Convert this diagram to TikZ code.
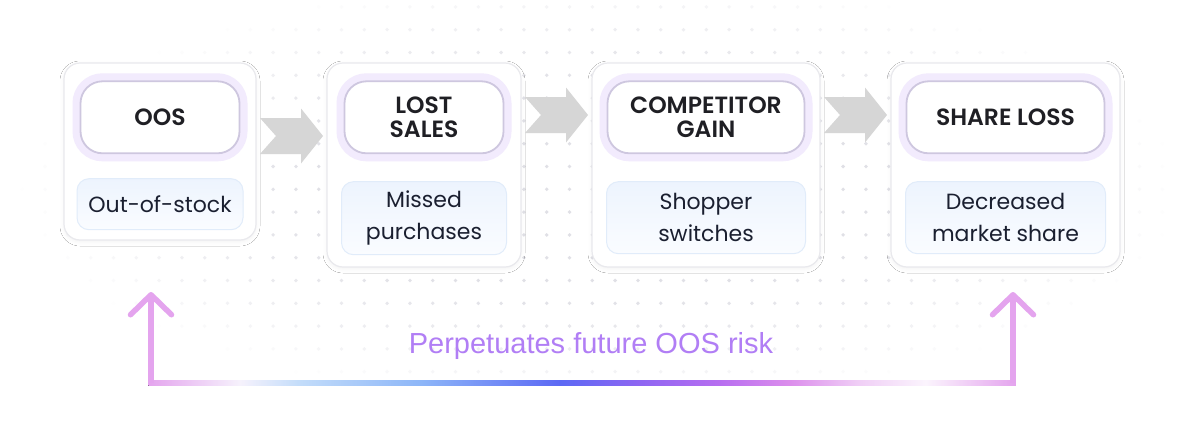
\documentclass[tikz,border=0pt]{standalone}
\usepackage{fontspec}
\setmainfont{Poppins}
\IfFontExistsTF{Poppins SemiBold}
  {\newfontfamily\headfont{Poppins SemiBold}}
  {\newfontfamily\headfont{Poppins}[UprightFont=*, BoldFont=* Bold]\let\oldheadfont\headfont\def\headfont{\oldheadfont\bfseries}}
\newfontfamily\notefont{Liberation Sans}
\usetikzlibrary{positioning,calc,arrows.meta,shadows.blur}
\definecolor{ink}{HTML}{1F1F24}
\definecolor{subink}{HTML}{1A1F30}
\definecolor{cardline}{HTML}{E9E9ED}
\definecolor{titleline}{HTML}{CEC7DF}
\definecolor{glow}{HTML}{F2EBFD}
\definecolor{subtop}{HTML}{EDF4FE}
\definecolor{subbot}{HTML}{FAFCFF}
\definecolor{subline}{HTML}{E1ECFA}
\definecolor{chevgray}{HTML}{D6D6D6}
\definecolor{dotgray}{HTML}{D6D6DE}
\definecolor{backpink}{HTML}{E4A4EE}
\definecolor{notepurple}{HTML}{B17EF5}
\definecolor{fadeA}{HTML}{F6F2FC}
\definecolor{fadeB}{HTML}{C2DCFA}
\definecolor{fadeC}{HTML}{8DB6F8}
\definecolor{fadeD}{HTML}{5C69F4}
\definecolor{fadeE}{HTML}{8E66F2}
\definecolor{fadeF}{HTML}{B76EF0}
\definecolor{fadeG}{HTML}{DC8EEC}
\definecolor{fadeH}{HTML}{F0CFF6}
\definecolor{fadeI}{HTML}{FBF4FD}
\pgfdeclarehorizontalshading{backfade}{100bp}{color(0bp)=(backpink); color(25bp)=(backpink);
  color(30.3bp)=(fadeA); color(33.8bp)=(fadeB); color(40.7bp)=(fadeC); color(48.7bp)=(fadeD);
  color(53.3bp)=(fadeE); color(57.9bp)=(fadeF); color(62bp)=(fadeG); color(66bp)=(fadeH);
  color(69.8bp)=(fadeI); color(75bp)=(backpink); color(100bp)=(backpink)}
% gray chevron between two cards, at height #3
\newcommand{\chev}[3]{%
  \fill[chevron] let \p1=(#1.east), \p2=(#2.west) in
    ({(\x1+\x2)/2-31.5pt},{-#3pt+18pt}) -- ({(\x1+\x2)/2+9.5pt},{-#3pt+18pt})
    -- ({(\x1+\x2)/2+9.5pt},{-#3pt+27.5pt}) -- ({(\x1+\x2)/2+31.5pt},{-#3pt})
    -- ({(\x1+\x2)/2+9.5pt},{-#3pt-27.5pt}) -- ({(\x1+\x2)/2+9.5pt},{-#3pt-18pt})
    -- ({(\x1+\x2)/2-31.5pt},{-#3pt-18pt}) -- ({(\x1+\x2)/2-15.5pt},{-#3pt}) -- cycle;}

\begin{document}
\begin{tikzpicture}[
  x=1pt, y=-1pt,
  card/.style={draw=cardline, line width=1.2pt, fill=white, rounded corners=16pt,
               blur shadow={shadow xshift=0pt, shadow yshift=-2pt, shadow blur radius=4pt, shadow opacity=5}},
  titlebox/.style={draw=titleline, line width=1.8pt, fill=white, rounded corners=22pt,
                   preaction={draw=glow, line width=16pt},
                   minimum height=72pt, align=center, text=ink,
                   font=\headfont\fontsize{23.5}{24.5}\selectfont},
  subbox/.style={draw=subline, line width=1pt, top color=subtop, bottom color=subbot,
                 rounded corners=12pt, align=center, text=subink,
                 font=\fontsize{22}{32}\selectfont},
  chevron/.style={fill=chevgray},
  backline/.style={draw=backpink, line width=5.5pt,
                   -{Straight Barb[length=20pt, width=41pt, round]}}
]
  \useasboundingbox (0,0) rectangle (1184,442);
  \fill[white] (0,0) rectangle (1184,442);

  % dotted backdrop, fading out towards the edges
  \foreach \i in {0,...,50} {
    \foreach \j in {0,...,16} {
      \pgfmathsetmacro\dx{22.3+22.8*\i}
      \pgfmathsetmacro\dy{6.9+22.8*\j}
      \pgfmathsetmacro\op{0.75*min(1,1.3*max(0,1-((\dx-600)/580)^2-((\dy-190)/215)^2))}
      \fill[dotgray, opacity=\op] (\dx,\dy) circle (1.9);
    }
  }

  \node[card, minimum width=192pt, minimum height=177pt] (c1) at (160,151.5) {};
  \node[card, minimum width=194pt, minimum height=204pt] (c2) at (424,165) {};
  \node[card, minimum width=228pt, minimum height=204pt] (c3) at (706,165) {};
  \node[card, minimum width=229pt, minimum height=204pt] (c4) at (1005.5,165) {};

  \node[titlebox, minimum width=159pt, below=18pt of c1.north] (t1) {OOS};
  \node[titlebox, minimum width=159pt, below=18pt of c2.north] (t2) {LOST\\SALES};
  \node[titlebox, minimum width=197pt, below=18pt of c3.north] (t3) {COMPETITOR\\GAIN};
  \node[titlebox, minimum width=198pt, below=18pt of c4.north] (t4) {SHARE LOSS};

  \node[subbox, minimum width=166pt, minimum height=51pt, below=24pt of t1.south] (s1) {Out-of-stock};
  \node[subbox, minimum width=165pt, minimum height=73pt, below=27pt of t2.south] (s2) {Missed\\purchases};
  \node[subbox, minimum width=199pt, minimum height=72pt, below=27pt of t3.south] (s3) {Shopper\\switches};
  \node[subbox, minimum width=200pt, minimum height=72pt, below=27pt of t4.south] (s4) {Decreased\\market share};

  \chev{c1}{c2}{136}
  \chev{c2}{c3}{115}
  \chev{c3}{c4}{115}

  % feedback loop
  \coordinate (lb) at (151,383);
  \coordinate (rb) at (1013,383);
  \coordinate (lt) at (151,292);
  \coordinate (rt) at (1013,292);
  \fill[shading=backfade] ([shift={(-2.75,-2.75)}]lb) rectangle ([shift={(2.75,2.75)}]rb);
  \draw[backline] (lb) -- (lt);
  \draw[backline] (rb) -- (rt);
  \node[text=notepurple, font=\notefont\fontsize{29}{34}\selectfont, anchor=base] (note) at (591,353) {Perpetuates future OOS risk};
\end{tikzpicture}
\end{document}
